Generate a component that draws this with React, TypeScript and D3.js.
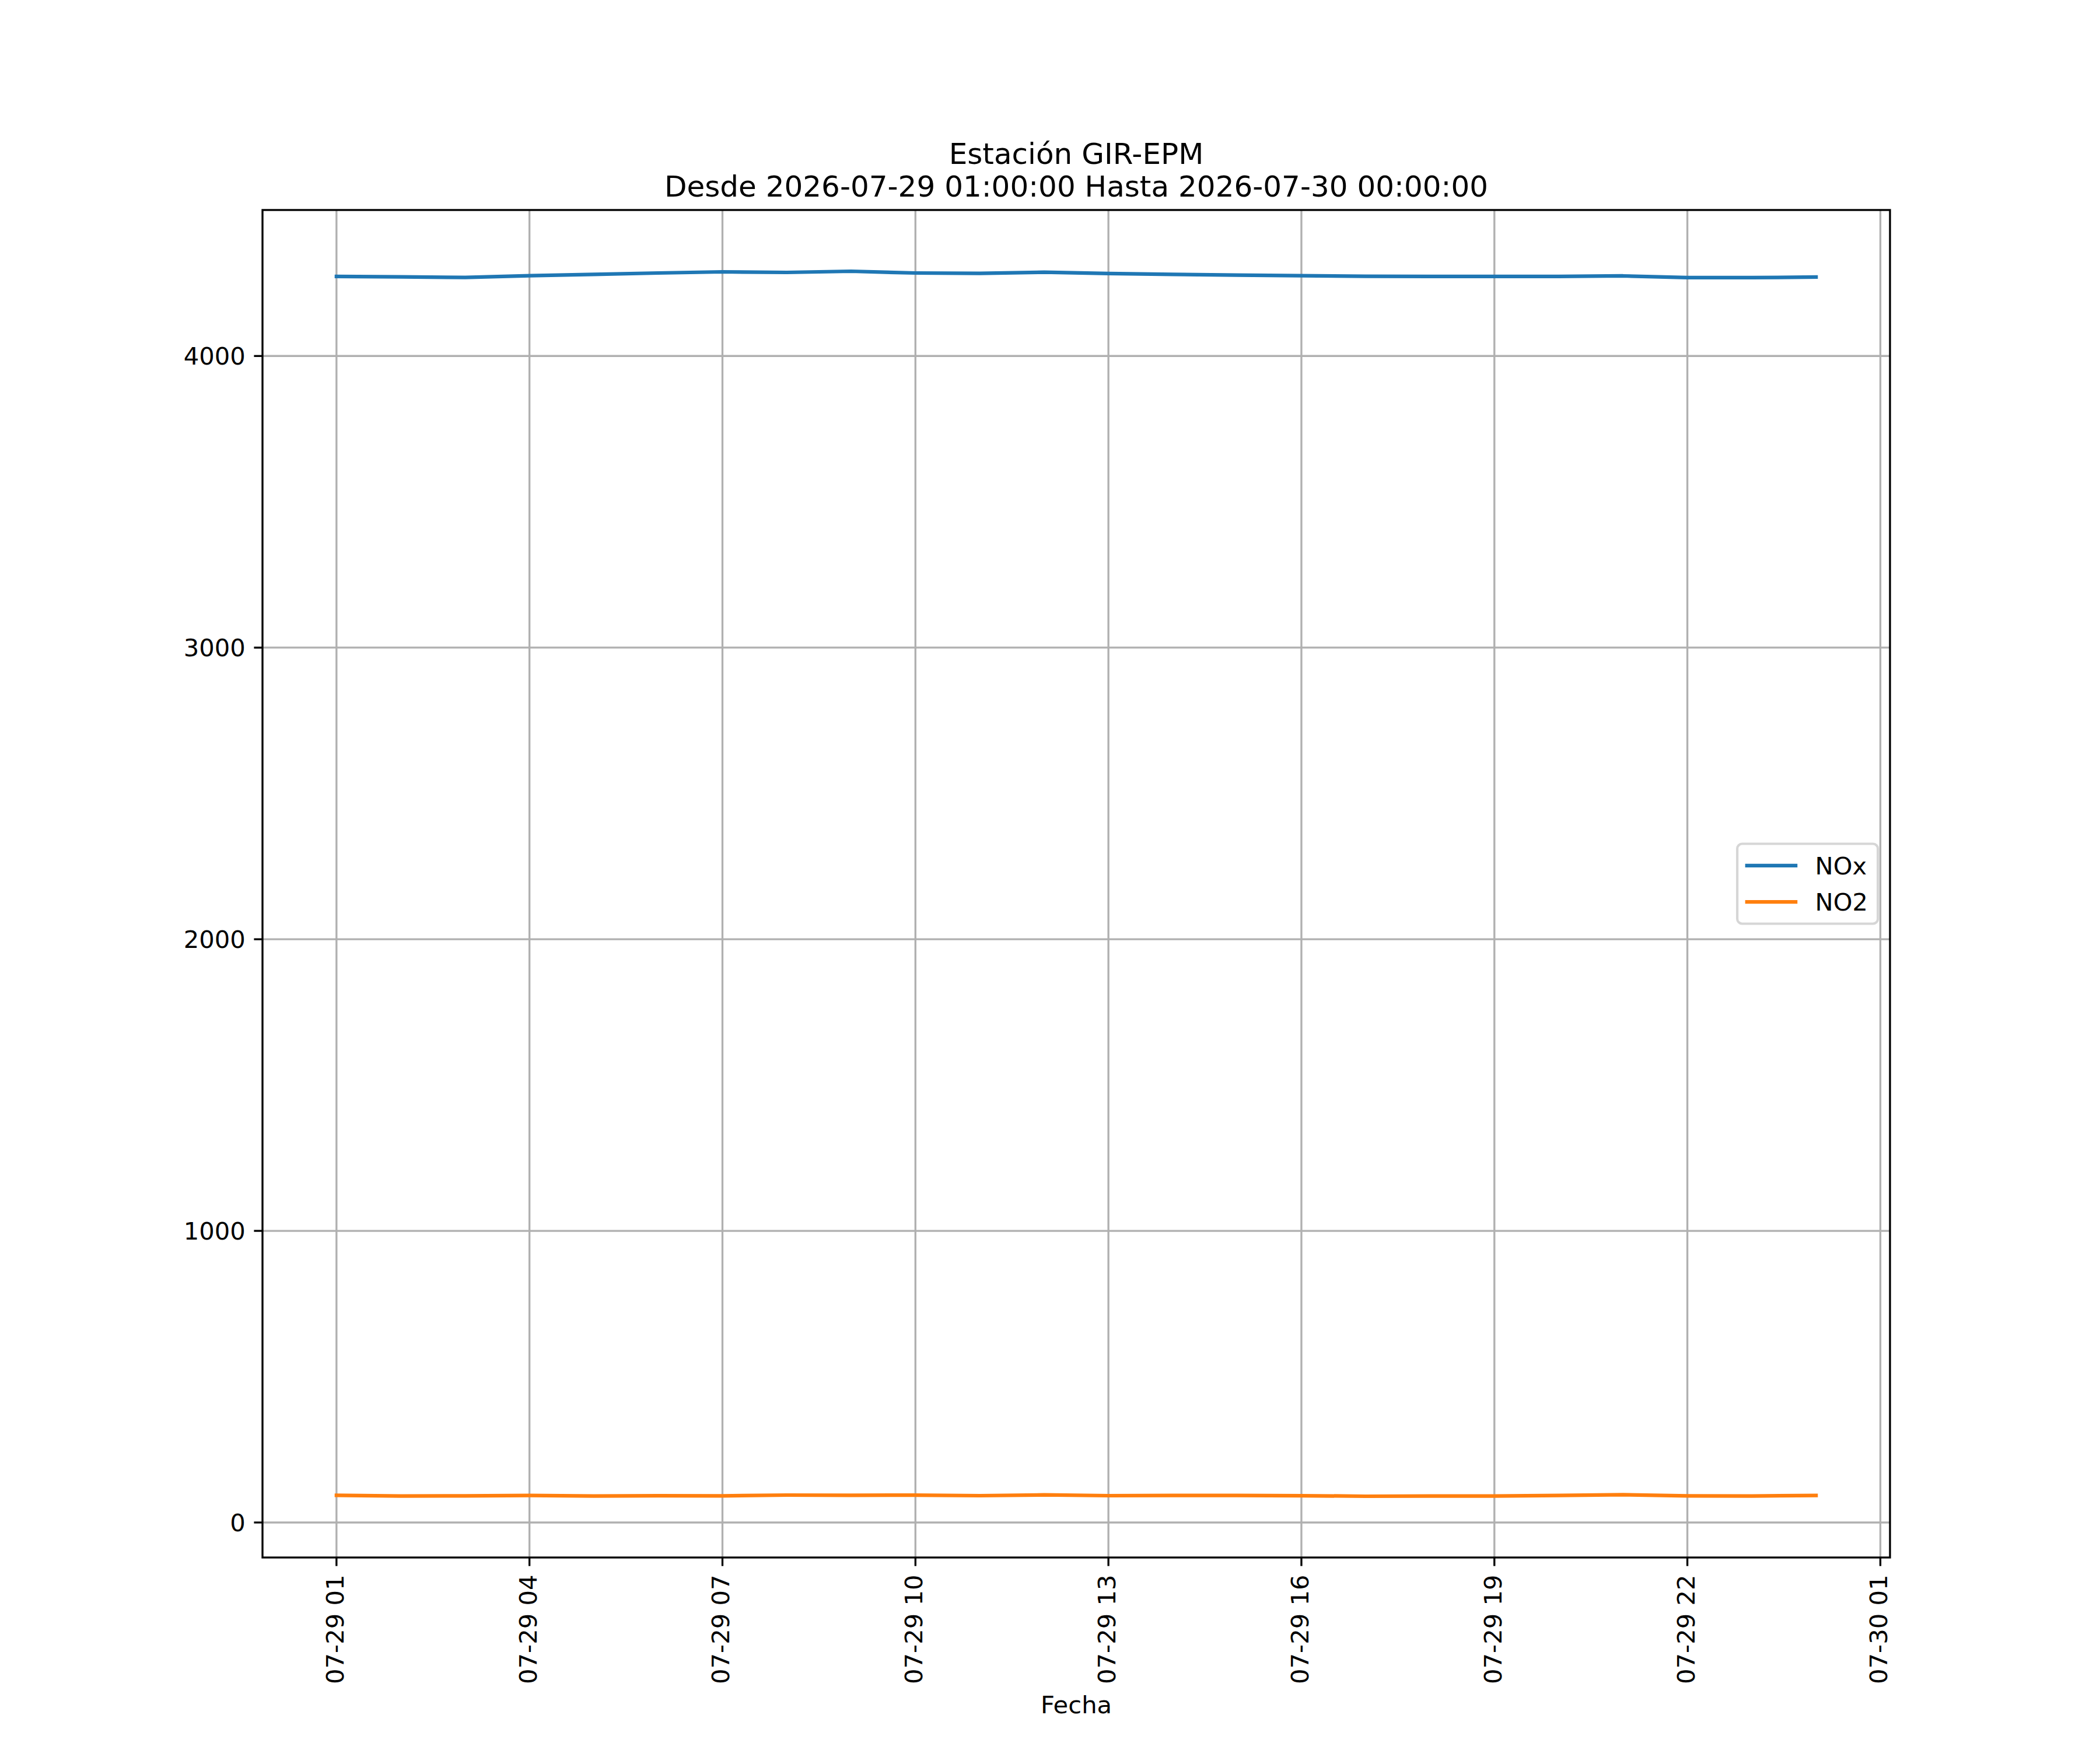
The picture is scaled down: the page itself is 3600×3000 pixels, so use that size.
import React from "react";
import * as d3 from "d3";

const times: string[] = [
  "2026-07-29 01:00", "2026-07-29 02:00", "2026-07-29 03:00", "2026-07-29 04:00",
  "2026-07-29 05:00", "2026-07-29 06:00", "2026-07-29 07:00", "2026-07-29 08:00",
  "2026-07-29 09:00", "2026-07-29 10:00", "2026-07-29 11:00", "2026-07-29 12:00",
  "2026-07-29 13:00", "2026-07-29 14:00", "2026-07-29 15:00", "2026-07-29 16:00",
  "2026-07-29 17:00", "2026-07-29 18:00", "2026-07-29 19:00", "2026-07-29 20:00",
  "2026-07-29 21:00", "2026-07-29 22:00", "2026-07-29 23:00", "2026-07-30 00:00",
];

const noxValues: number[] = [
  4272.6, 4271.4, 4269.4, 4275.4, 4280.0, 4284.6, 4288.6, 4286.6,
  4290.6, 4284.6, 4283.4, 4287.4, 4282.6, 4280.0, 4277.4, 4275.4,
  4273.4, 4273.0, 4273.0, 4272.6, 4274.6, 4268.6, 4268.6, 4270.6,
];

const no2Values: number[] = [
  93.3, 90.7, 91.3, 92.7, 90.7, 92.0, 91.3, 94.0,
  93.3, 94.0, 92.0, 94.7, 92.0, 92.7, 92.7, 92.0,
  90.0, 90.7, 90.7, 92.7, 95.3, 91.3, 90.7, 92.7,
];

const xTickTimes: string[] = [
  "2026-07-29 01:00", "2026-07-29 04:00", "2026-07-29 07:00", "2026-07-29 10:00",
  "2026-07-29 13:00", "2026-07-29 16:00", "2026-07-29 19:00", "2026-07-29 22:00",
  "2026-07-30 01:00",
];
const yTicks: number[] = [0, 1000, 2000, 3000, 4000];

const seriesNames: string[] = ["NOx", "NO2"];
const seriesColors: string[] = ["#1f77b4", "#ff7f0e"];

const titleLines: string[] = ["Estación GIR-EPM", "Desde 2026-07-29 01:00:00 Hasta 2026-07-30 00:00:00"];
const xLabel = "Fecha";

const W = 3600;
const H = 3000;
const L = 450, R = 3240, T = 360, B = 2670;
const FS = 41.67;
const LW = 6.25;
const SPINE = 3.33;
const TICK = 14.6;
const FONT = "'DejaVu Sans', sans-serif";

export default function App() {
  const parse = d3.timeParse("%Y-%m-%d %H:%M");
  const fmt = d3.timeFormat("%m-%d %H");
  const dates = times.map((t) => parse(t) as Date);
  const [t0, t1] = d3.extent(dates) as [Date, Date];
  const span = +t1 - +t0;
  const x = d3
    .scaleTime()
    .domain([new Date(+t0 - span * 0.05), new Date(+t1 + span * 0.05)])
    .range([L, R]);

  const all = [...noxValues, ...no2Values];
  const [vmin, vmax] = d3.extent(all) as [number, number];
  const vr = vmax - vmin;
  const y = d3.scaleLinear().domain([vmin - vr * 0.05, vmax + vr * 0.05]).range([B, T]);

  const series = [noxValues, no2Values];
  const line = d3
    .line<number>()
    .x((_, i) => x(dates[i]))
    .y((v) => y(v));

  const xTicks = xTickTimes.map((t) => parse(t) as Date);

  // legend layout
  const bp = 0.4 * FS, ls = 0.5 * FS, hl = 2.0 * FS, htp = 0.8 * FS, bap = 0.5 * FS;
  const rowH = 41.4;
  const textW = 91;
  const legW = 2 * bp + hl + htp + textW;
  const legH = 2 * bp + 2 * rowH + ls;
  const legX = R - bap - legW;
  const legY = (T + B) / 2 - legH / 2;

  return (
    <svg
      width={W}
      height={H}
      viewBox={`0 0 ${W} ${H}`}
      style={{ position: "absolute", left: 0, top: 0, background: "#fff" }}
      fontFamily={FONT}
    >
      <rect x={0} y={0} width={W} height={H} fill="#fff" />
      <clipPath id="ax">
        <rect x={L} y={T} width={R - L} height={B - T} />
      </clipPath>
      {/* grid */}
      <g stroke="#b0b0b0" strokeWidth={SPINE}>
        {xTicks.map((d, i) => (
          <line key={"gx" + i} x1={x(d)} x2={x(d)} y1={T} y2={B} />
        ))}
        {yTicks.map((v, i) => (
          <line key={"gy" + i} x1={L} x2={R} y1={y(v)} y2={y(v)} />
        ))}
      </g>
      {/* lines */}
      <g clipPath="url(#ax)">
        {series.map((s, i) => (
          <path
            key={"s" + i}
            d={line(s) || ""}
            fill="none"
            stroke={seriesColors[i]}
            strokeWidth={LW}
            strokeLinecap="square"
            strokeLinejoin="round"
          />
        ))}
      </g>
      {/* spines */}
      <rect x={L} y={T} width={R - L} height={B - T} fill="none" stroke="#000" strokeWidth={SPINE} />
      {/* y ticks */}
      {yTicks.map((v, i) => (
        <g key={"yt" + i}>
          <line x1={L - TICK} x2={L} y1={y(v)} y2={y(v)} stroke="#000" strokeWidth={SPINE} />
          <text x={L - TICK - 14.6} y={y(v) + 15} textAnchor="end" fontSize={FS} fill="#000">
            {String(v)}
          </text>
        </g>
      ))}
      {/* x ticks */}
      {xTicks.map((d, i) => (
        <g key={"xt" + i}>
          <line x1={x(d)} x2={x(d)} y1={B} y2={B + TICK} stroke="#000" strokeWidth={SPINE} />
          <text
            transform={`translate(${x(d)},${B + TICK + 15}) rotate(-90)`}
            x={0}
            y={12}
            textAnchor="end"
            fontSize={FS}
            fill="#000"
          >
            {fmt(d)}
          </text>
        </g>
      ))}
      {/* title */}
      <text x={(L + R) / 2} y={281} textAnchor="middle" fontSize={50} fill="#000">
        {titleLines[0]}
      </text>
      <text x={(L + R) / 2} y={337} textAnchor="middle" fontSize={50} fill="#000">
        {titleLines[1]}
      </text>
      {/* x label */}
      <text x={(L + R) / 2} y={2937} textAnchor="middle" fontSize={FS} fill="#000">
        {xLabel}
      </text>
      {/* legend */}
      <g>
        <rect
          x={legX}
          y={legY}
          width={legW}
          height={legH}
          rx={8.3}
          ry={8.3}
          fill="#fff"
          fillOpacity={0.8}
          stroke="#cccccc"
          strokeOpacity={0.8}
          strokeWidth={4.17}
        />
        {seriesNames.map((n, i) => {
          const cy = legY + bp + rowH / 2 + i * (rowH + ls);
          return (
            <g key={"lg" + i}>
              <line
                x1={legX + bp}
                x2={legX + bp + hl}
                y1={cy}
                y2={cy}
                stroke={seriesColors[i]}
                strokeWidth={LW}
                strokeLinecap="square"
              />
              <text x={legX + bp + hl + htp} y={cy + 15} fontSize={FS} fill="#000">
                {n}
              </text>
            </g>
          );
        })}
      </g>
    </svg>
  );
}
